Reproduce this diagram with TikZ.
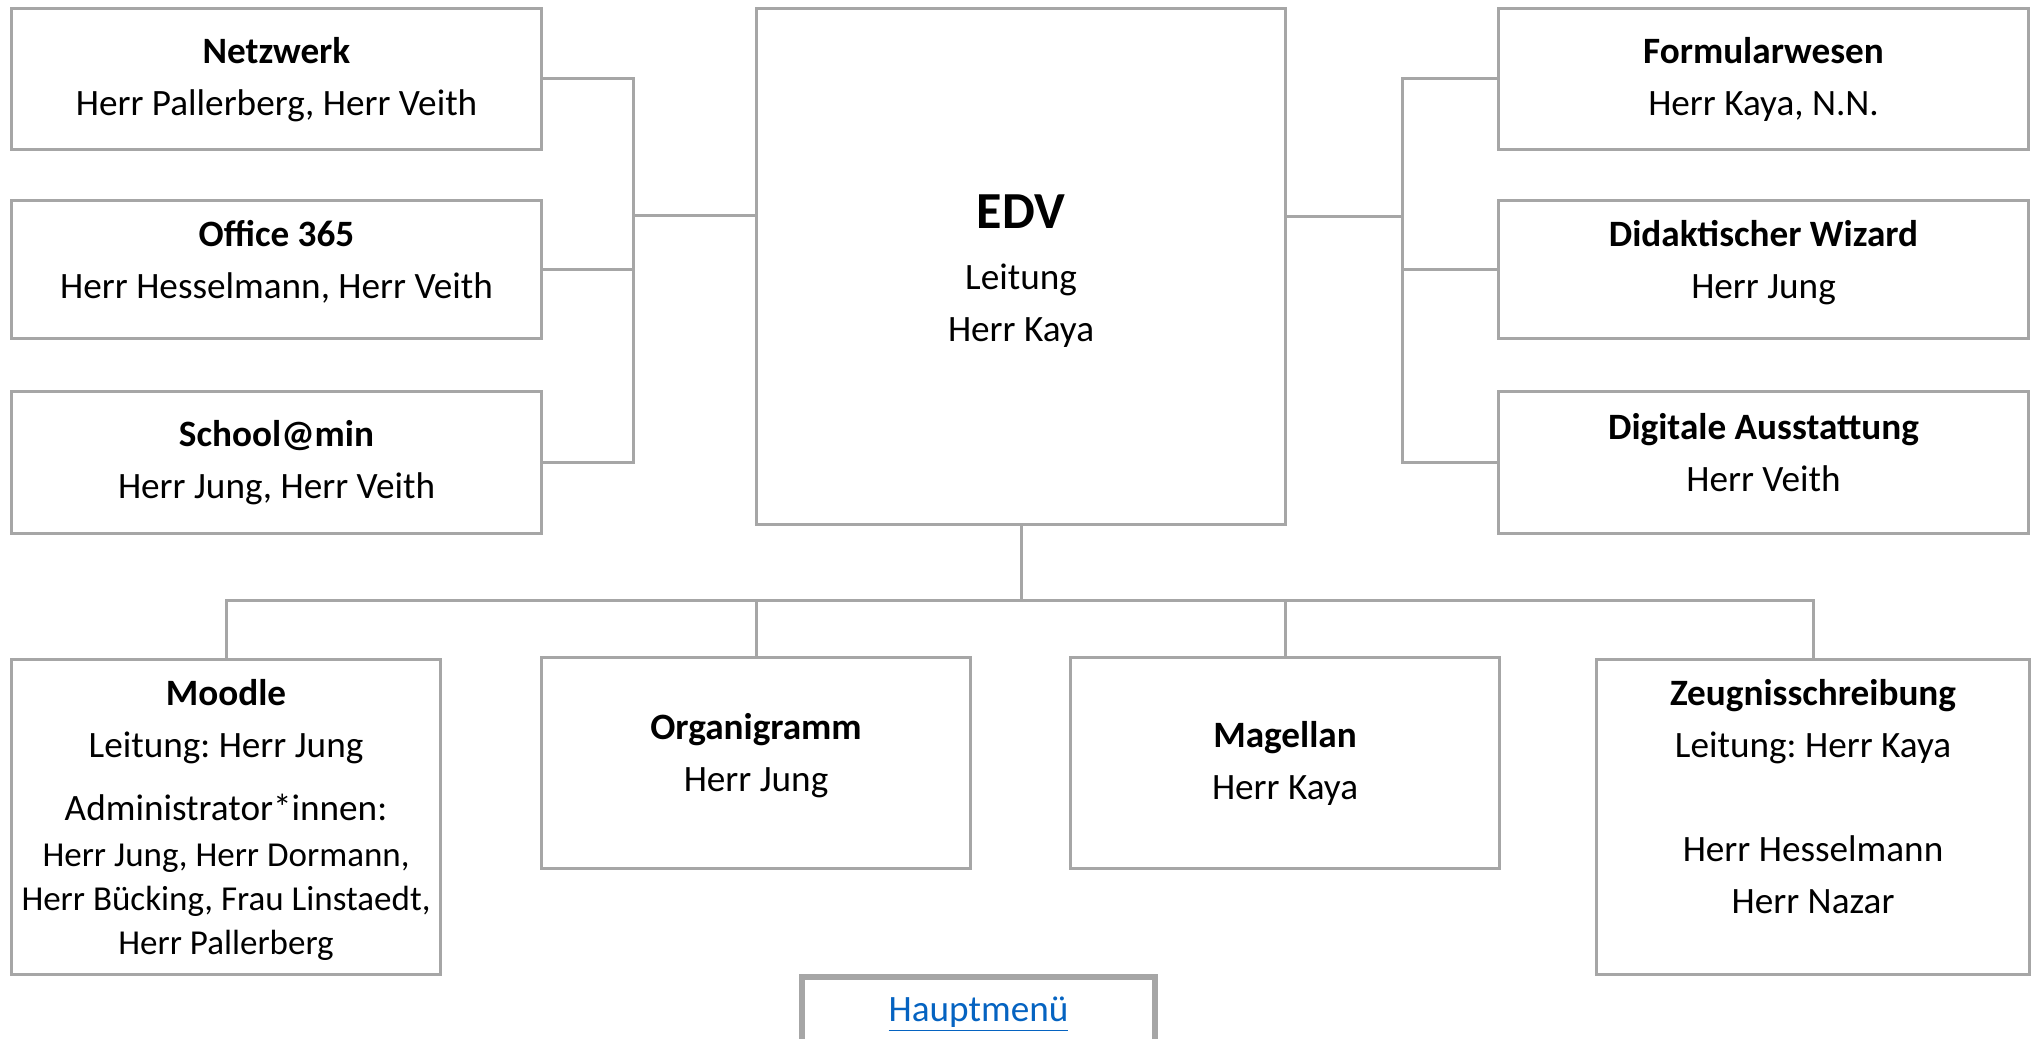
\documentclass[tikz,border=0pt]{standalone}
\usepackage{fontspec}
\setmainfont{Carlito}
\usepackage{xcolor}
\usetikzlibrary{positioning}
\definecolor{boxgray}{HTML}{A6A6A6}
\definecolor{linkblue}{HTML}{0563C1}
\newcommand\sml{\fontsize{17.5}{22}\selectfont}
\frenchspacing

\begin{document}
\begin{tikzpicture}[x=1pt,y=-1pt,
  box/.style={draw=boxgray,line width=1.5pt,fill=white,align=center,inner sep=0pt,
    font=\fontsize{18.6}{26}\selectfont},
  side/.style={box,minimum width=265pt,minimum height=70.5pt,text height=40.6pt,text depth=4pt},
  low/.style={box,minimum width=214.5pt,minimum height=157.5pt},
  line/.style={draw=boxgray,line width=1.5pt}]
\useasboundingbox (0,0) rectangle (1019,519);

\node[side] (netz) at (138.25,39.5) {\textbf{Netzwerk}\\Herr Pallerberg, Herr Veith};
\node[side,minimum height=69pt,text height=32.5pt] (office) at (138.25,134.75) {\textbf{Office 365}\\Herr Hesselmann, Herr Veith};
\node[side,minimum height=71pt,text height=39.5pt] (school) at (138.25,231.25) {\textbf{School@min}\\Herr Jung, Herr Veith};

\node[side] (form) at (881.75,39.5) {\textbf{Formularwesen}\\Herr Kaya, N.N.};
\node[side,minimum height=69pt,text height=32.5pt] (wiz) at (881.75,134.75) {\textbf{Didaktischer Wizard}\\Herr Jung};
\node[side,minimum height=71pt,text height=33pt] (digi) at (881.75,231.25) {\textbf{Digitale Ausstattung}\\Herr Veith};

\node[box,minimum width=264.5pt,minimum height=258pt,text height=79.6pt,text depth=4pt] (edv) at (510.5,133.1)
  {\fontsize{26}{30}\selectfont\textbf{EDV}\\[4.5pt]Leitung\\Herr Kaya};

\node[low,text height=141.8pt,text depth=3.7pt] (moodle) at (113,408.25) {\textbf{Moodle}\\Leitung: Herr Jung\\[5.5pt]Administrator*innen:\\[-3pt]\sml Herr Jung, Herr Dormann,\\[-4pt]\sml Herr Bücking, Frau Linstaedt,\\[-4pt]\sml Herr Pallerberg};
\node[low,minimum height=105.5pt,text height=32.8pt,text depth=4pt] (orga) at (378,381.5) {\textbf{Organigramm}\\Herr Jung};
\node[low,minimum height=105.5pt] (magel) at (642.5,381.5) {\textbf{Magellan}\\Herr Kaya};
\node[low,minimum width=216.5pt] (zeug) at (906.5,408.25) {\textbf{Zeugnisschreibung}\\Leitung: Herr Kaya\\[26pt]Herr Hesselmann\\Herr Nazar\\[-6pt]\mbox{}};

\node[draw=boxgray,line width=3pt,minimum width=176.5pt,minimum height=37pt,inner sep=0pt,
  font=\fontsize{18.6}{26}\selectfont,text=linkblue] (menu) at (489.25,507) {\underline{Hauptmenü}};

\coordinate (lhub) at (316.5,107.5);
\coordinate (rhub) at (701,108);
\coordinate (bus) at (509.5,300);

\draw[line] (netz.east) -- (netz.east -| lhub) -- (school.east -| lhub) -- (school.east);
\draw[line] (office.east) -- (office.east -| lhub);
\draw[line] (lhub) -- (lhub -| edv.west);
\draw[line] (form.west) -- (form.west -| rhub) -- (digi.west -| rhub) -- (digi.west);
\draw[line] (wiz.west) -- (wiz.west -| rhub);
\draw[line] (rhub) -- (rhub -| edv.east);
\draw[line] (edv.south) -- (edv.south |- bus);
\draw[line] (moodle.north) -- (moodle.north |- bus) -- (zeug.north |- bus) -- (zeug.north);
\draw[line] (orga.north) -- (orga.north |- bus);
\draw[line] (magel.north) -- (magel.north |- bus);
\end{tikzpicture}
\end{document}
